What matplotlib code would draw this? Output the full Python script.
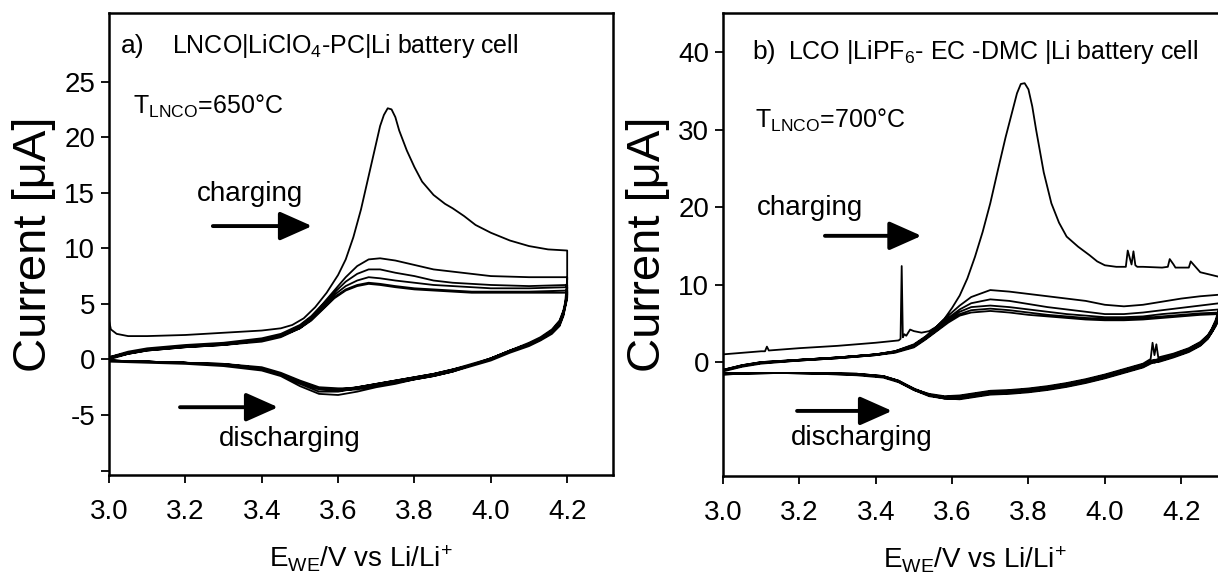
import matplotlib
matplotlib.use("Agg")
import matplotlib.pyplot as plt

plt.rcParams['font.family'] = ['Liberation Sans', 'DejaVu Sans']
plt.rcParams['mathtext.fontset'] = 'custom'
plt.rcParams['mathtext.rm'] = 'Liberation Sans'
plt.rcParams['mathtext.it'] = 'Liberation Sans'

# ---- panel a) LNCO | LiClO4-PC | Li ----
# first cycle, charging sweep
a_v1_up = [3.00, 3.005, 3.02, 3.05, 3.10, 3.20, 3.30, 3.40, 3.45, 3.48, 3.51, 3.54,
           3.57, 3.60, 3.62, 3.64, 3.66, 3.68, 3.70, 3.71, 3.72, 3.73, 3.74, 3.75,
           3.76, 3.78, 3.80, 3.82, 3.85, 3.88, 3.90, 3.93, 3.96, 4.00, 4.05, 4.10,
           4.15, 4.20]
a_i1_up = [3.5, 2.7, 2.3, 2.1, 2.1, 2.2, 2.4, 2.6, 2.8, 3.1, 3.7, 4.7,
           6.0, 7.6, 9.0, 11.0, 13.5, 16.5, 19.5, 21.0, 22.0, 22.6, 22.5, 21.8,
           20.6, 18.8, 17.3, 16.0, 14.8, 14.0, 13.6, 12.9, 12.1, 11.4, 10.7, 10.2,
           9.9, 9.8]

# later cycles, charging sweep
a_v_up = [3.00, 3.05, 3.10, 3.20, 3.30, 3.40, 3.45, 3.50, 3.53, 3.56, 3.59, 3.62,
          3.65, 3.68, 3.71, 3.75, 3.80, 3.85, 3.90, 3.95, 4.00, 4.10, 4.20]
a_i_up = [
    [0.2, 0.7, 1.0, 1.3, 1.5, 1.9, 2.3, 3.1, 3.9, 5.0, 6.2, 7.4, 8.4, 9.0, 9.1, 8.9, 8.5, 8.1, 7.9, 7.7, 7.5, 7.4, 7.4],
    [0.2, 0.6, 0.9, 1.2, 1.4, 1.8, 2.2, 3.0, 3.8, 4.9, 6.0, 7.0, 7.7, 8.1, 8.1, 7.8, 7.5, 7.1, 6.9, 6.8, 6.7, 6.6, 6.7],
    [0.1, 0.6, 0.9, 1.2, 1.4, 1.7, 2.1, 2.9, 3.7, 4.7, 5.8, 6.6, 7.1, 7.4, 7.3, 7.1, 6.9, 6.7, 6.6, 6.5, 6.4, 6.4, 6.5],
    [0.1, 0.5, 0.8, 1.1, 1.3, 1.7, 2.1, 2.8, 3.6, 4.6, 5.6, 6.3, 6.7, 6.9, 6.8, 6.6, 6.4, 6.3, 6.2, 6.1, 6.1, 6.1, 6.2],
    [0.0, 0.5, 0.8, 1.1, 1.3, 1.6, 2.0, 2.8, 3.5, 4.5, 5.5, 6.2, 6.6, 6.8, 6.7, 6.5, 6.3, 6.2, 6.1, 6.0, 6.0, 6.0, 6.0],
]

# all cycles, discharging sweep
a_v_down = [4.20, 4.20, 4.195, 4.19, 4.18, 4.16, 4.13, 4.10, 4.05, 4.00, 3.95, 3.90, 3.85,
            3.80, 3.75, 3.70, 3.65, 3.60, 3.55, 3.50, 3.45, 3.40, 3.30, 3.20, 3.10, 3.00]
a_i_down = [
    [9.8, 7.2, 5.2, 4.4, 3.5, 2.7, 2.0, 1.5, 0.8, 0.1, -0.5, -1.1, -1.5, -1.8, -2.2, -2.5, -2.9, -3.2, -3.1, -2.4, -1.5, -1.0, -0.6, -0.4, -0.3, -0.2],
    [7.4, 6.4, 5.0, 4.3, 3.4, 2.6, 1.9, 1.4, 0.8, 0.1, -0.5, -1.0, -1.4, -1.7, -2.0, -2.3, -2.6, -2.9, -2.9, -2.2, -1.4, -0.9, -0.5, -0.3, -0.2, -0.1],
    [6.7, 6.0, 5.0, 4.2, 3.3, 2.5, 1.9, 1.4, 0.8, 0.1, -0.4, -0.9, -1.3, -1.6, -1.9, -2.2, -2.5, -2.8, -2.7, -2.1, -1.3, -0.8, -0.5, -0.3, -0.2, -0.1],
    [6.5, 5.8, 4.9, 4.1, 3.2, 2.5, 1.8, 1.3, 0.7, 0.0, -0.5, -0.9, -1.3, -1.6, -1.9, -2.2, -2.5, -2.7, -2.6, -2.0, -1.3, -0.8, -0.5, -0.3, -0.2, -0.1],
    [6.2, 5.6, 4.8, 4.0, 3.1, 2.4, 1.8, 1.3, 0.7, 0.0, -0.5, -1.0, -1.4, -1.7, -2.0, -2.3, -2.6, -2.6, -2.5, -1.9, -1.2, -0.7, -0.4, -0.3, -0.2, -0.1],
    [6.0, 5.5, 4.7, 3.9, 3.0, 2.3, 1.7, 1.2, 0.6, -0.1, -0.6, -1.1, -1.5, -1.8, -2.1, -2.4, -2.7, -2.8, -2.6, -2.0, -1.3, -0.8, -0.4, -0.3, -0.2, -0.1],
]

# ---- panel b) LCO | LiPF6-EC-DMC | Li ----
b_v1_up = [3.00, 3.05, 3.10, 3.11, 3.115, 3.12, 3.20, 3.30, 3.40, 3.46, 3.465, 3.468,
           3.471, 3.475, 3.48, 3.49, 3.50, 3.52, 3.54, 3.56, 3.58, 3.60, 3.62, 3.64,
           3.66, 3.68, 3.70, 3.72, 3.74, 3.76, 3.77, 3.78, 3.79, 3.80, 3.81, 3.82,
           3.84, 3.86, 3.88, 3.90, 3.93, 3.96, 3.98, 4.00, 4.03, 4.055, 4.06, 4.07,
           4.075, 4.08, 4.085, 4.10, 4.15, 4.165, 4.17, 4.18, 4.185, 4.22, 4.225, 4.25,
           4.30, 4.32]
b_i1_up = [1.0, 1.2, 1.4, 1.4, 2.0, 1.5, 1.8, 2.1, 2.5, 2.8, 3.0, 12.4,
           3.2, 3.6, 3.4, 4.2, 4.0, 3.8, 4.0, 4.6, 5.6, 7.0, 8.6, 10.8,
           13.6, 16.8, 20.5, 24.8, 29.0, 32.8, 34.7, 35.9, 36.0, 35.2, 33.0, 30.0,
           24.5, 20.5, 18.0, 16.2, 14.9, 13.8, 13.0, 12.5, 12.3, 12.3, 14.4, 12.6,
           14.3, 12.5, 12.3, 12.3, 12.2, 12.3, 13.3, 12.6, 12.2, 12.2, 13.0, 11.6,
           11.0, 10.9]

b_v_up = [3.00, 3.05, 3.10, 3.20, 3.30, 3.40, 3.45, 3.50, 3.53, 3.56, 3.59, 3.62, 3.65,
          3.70, 3.75, 3.80, 3.85, 3.90, 3.95, 4.00, 4.05, 4.10, 4.15, 4.20, 4.25, 4.30, 4.32]
b_i_up = [
    [-1.0, -0.4, 0.0, 0.3, 0.6, 1.0, 1.4, 2.3, 3.3, 4.6, 6.0, 7.3, 8.4, 9.3, 9.1, 8.8, 8.5, 8.2, 7.9, 7.4, 7.2, 7.4, 7.8, 8.2, 8.5, 8.7, 8.8],
    [-1.0, -0.4, 0.0, 0.3, 0.6, 1.0, 1.4, 2.2, 3.2, 4.4, 5.7, 6.8, 7.6, 8.1, 7.9, 7.5, 7.1, 6.8, 6.5, 6.2, 6.2, 6.4, 6.7, 7.0, 7.3, 7.6, 7.7],
    [-1.1, -0.5, -0.1, 0.3, 0.6, 1.0, 1.3, 2.1, 3.1, 4.3, 5.5, 6.5, 7.1, 7.3, 7.1, 6.8, 6.5, 6.2, 6.0, 5.8, 5.8, 5.9, 6.2, 6.4, 6.6, 6.8, 6.9],
    [-1.1, -0.5, -0.1, 0.2, 0.5, 0.9, 1.3, 2.0, 3.0, 4.1, 5.3, 6.2, 6.7, 6.9, 6.7, 6.4, 6.1, 5.9, 5.7, 5.6, 5.6, 5.7, 5.9, 6.1, 6.3, 6.4, 6.5],
    [-1.2, -0.6, -0.2, 0.2, 0.5, 0.9, 1.2, 1.9, 2.9, 4.0, 5.1, 6.0, 6.4, 6.6, 6.4, 6.1, 5.9, 5.7, 5.5, 5.4, 5.4, 5.5, 5.7, 5.9, 6.1, 6.2, 6.3],
]

b_v_down = [4.32, 4.30, 4.29, 4.28, 4.27, 4.25, 4.22, 4.18, 4.14, 4.135, 4.13, 4.125,
            4.12, 4.10, 4.05, 4.00, 3.95, 3.90, 3.85, 3.80, 3.75, 3.70, 3.66, 3.62,
            3.58, 3.54, 3.50, 3.46, 3.42, 3.35, 3.25, 3.15, 3.05, 3.00]
b_i_down = [
    [10.9, 7.0, 5.4, 4.3, 3.5, 2.6, 1.8, 1.1, 0.6, 2.3, 0.9, 2.5, 0.4, -0.2, -0.9, -1.6, -2.2, -2.7, -3.1, -3.4, -3.6, -3.7, -4.0, -4.3, -4.4, -4.1, -3.5, -2.5, -1.9, -1.6, -1.4, -1.4, -1.5, -1.6],
    [8.8, 6.6, 5.2, 4.2, 3.4, 2.5, 1.7, 1.0, 0.4, 0.3, 0.3, 0.2, 0.2, -0.3, -1.0, -1.7, -2.3, -2.8, -3.2, -3.5, -3.7, -3.8, -4.1, -4.4, -4.5, -4.2, -3.5, -2.5, -1.9, -1.6, -1.5, -1.4, -1.5, -1.6],
    [7.7, 6.2, 5.0, 4.0, 3.3, 2.4, 1.6, 0.9, 0.3, 0.3, 0.2, 0.2, 0.1, -0.4, -1.1, -1.8, -2.4, -2.9, -3.3, -3.6, -3.8, -3.9, -4.2, -4.5, -4.5, -4.2, -3.4, -2.4, -1.8, -1.5, -1.4, -1.4, -1.4, -1.5],
    [6.9, 5.9, 4.8, 3.9, 3.2, 2.3, 1.5, 0.8, 0.2, 0.2, 0.1, 0.1, 0.0, -0.5, -1.2, -1.9, -2.5, -3.0, -3.4, -3.7, -3.9, -4.0, -4.3, -4.6, -4.6, -4.3, -3.5, -2.4, -1.8, -1.5, -1.4, -1.4, -1.4, -1.5],
    [6.5, 5.7, 4.7, 3.8, 3.1, 2.2, 1.4, 0.7, 0.1, 0.1, 0.0, 0.0, -0.1, -0.6, -1.3, -2.0, -2.6, -3.1, -3.5, -3.8, -4.0, -4.1, -4.4, -4.7, -4.7, -4.4, -3.6, -2.5, -1.9, -1.6, -1.4, -1.4, -1.4, -1.5],
    [6.3, 5.6, 4.6, 3.8, 3.0, 2.1, 1.3, 0.6, 0.0, 0.0, -0.1, -0.1, -0.2, -0.7, -1.4, -2.1, -2.7, -3.2, -3.6, -3.9, -4.1, -4.2, -4.5, -4.8, -4.7, -4.3, -3.6, -2.6, -2.0, -1.7, -1.5, -1.4, -1.4, -1.5],
]


def cycle_path(v1_up, i1_up, v_up, i_up, v_down, i_down):
    xs, ys = [], []
    xs += v1_up + v_down
    ys += i1_up + i_down[0]
    for k in range(len(i_up)):
        xs += v_up + v_down
        ys += i_up[k] + i_down[k + 1]
    return xs, ys


def style_axes(ax, ylim, yticks, yticklabels):
    ax.set_xlim(3.0, 4.32)
    ax.set_ylim(*ylim)
    ax.set_xticks([3.0, 3.2, 3.4, 3.6, 3.8, 4.0, 4.2])
    ax.set_xticklabels(['3.0', '3.2', '3.4', '3.6', '3.8', '4.0', '4.2'])
    ax.set_yticks(yticks)
    ax.set_yticklabels(yticklabels)
    ax.tick_params(direction='out', length=6, width=1.3, labelsize=20)
    ax.tick_params(axis='x', pad=11)
    ax.tick_params(axis='y', pad=4)
    for sp in ax.spines.values():
        sp.set_linewidth(1.8)
    ax.set_xlabel(r'E$_{\mathrm{WE}}$/V vs Li/Li$^{\mathrm{+}}$', fontsize=20, labelpad=14)
    ax.set_ylabel('Current [μA]', fontsize=34, labelpad=6)


def arrow(ax, x0, x1, y):
    ax.annotate('', xy=(x1, y), xytext=(x0, y),
                arrowprops=dict(arrowstyle='-|>,head_length=0.9,head_width=0.4', lw=2.8,
                                color='black', mutation_scale=22, shrinkA=0, shrinkB=0))


fig = plt.figure(figsize=(12.18, 5.81), dpi=100)

# left panel
ax1 = fig.add_axes([109 / 1218, 106 / 581, 504 / 1218, 462.3 / 581])
xa, ya = cycle_path(a_v1_up, a_i1_up, a_v_up, a_i_up, a_v_down, a_i_down)
ax1.plot(xa, ya, color='black', lw=1.3)
style_axes(ax1, (-10.4, 31.2), [-10, -5, 0, 5, 10, 15, 20, 25],
           ['', '-5', '0', '5', '10', '15', '20', '25'])
ax1.text(3.03, 28.2, 'a)', fontsize=19, va='center', ha='left')
ax1.text(3.165, 28.2, r'LNCO|LiClO$_{\mathrm{4}}$-PC|Li battery cell', fontsize=18, va='center', ha='left')
ax1.text(3.063, 22.8, r'T$_{\mathrm{LNCO}}$=650°C', fontsize=18, va='center', ha='left')
ax1.text(3.37, 14.9, 'charging', fontsize=20, va='center', ha='center')
arrow(ax1, 3.272, 3.532, 12.0)
ax1.text(3.474, -7.2, 'discharging', fontsize=20, va='center', ha='center')
arrow(ax1, 3.186, 3.443, -4.3)

# right panel
ax2 = fig.add_axes([723 / 1218, 105 / 581, 504 / 1218, 463.3 / 581])
xb, yb = cycle_path(b_v1_up, b_i1_up, b_v_up, b_i_up, b_v_down, b_i_down)
ax2.plot(xb, yb, color='black', lw=1.3)
style_axes(ax2, (-14.7, 45.1), [0, 10, 20, 30, 40], ['0', '10', '20', '30', '40'])
ax2.text(3.076, 40.0, 'b)', fontsize=19, va='center', ha='left')
ax2.text(3.17, 40.0, r'LCO |LiPF$_{\mathrm{6}}$- EC -DMC |Li battery cell', fontsize=18, va='center', ha='left')
ax2.text(3.084, 31.2, r'T$_{\mathrm{LNCO}}$=700°C', fontsize=18, va='center', ha='left')
ax2.text(3.228, 19.9, 'charging', fontsize=20, va='center', ha='center')
arrow(ax2, 3.267, 3.52, 16.3)
ax2.text(3.364, -9.8, 'discharging', fontsize=20, va='center', ha='center')
arrow(ax2, 3.194, 3.443, -6.3)

fig.savefig('out.png', dpi=100)
